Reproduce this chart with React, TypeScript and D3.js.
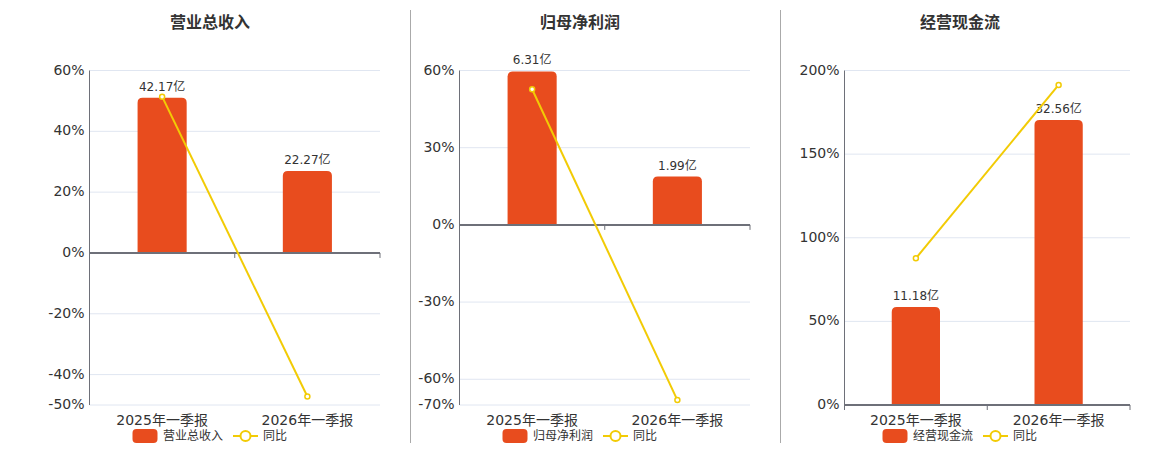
import { useEffect, useRef } from "react";
import * as d3 from "d3";

// ── Data ──────────────────────────────────────────────────────
const categories = ["2025年一季报", "2026年一季报"];
const panelTitles = ["营业总收入", "归母净利润", "经营现金流"];
const yoyLabel = "同比";

const revenue = [42.17, 22.27]; // 亿
const netProfit = [6.31, 1.99];
const cashFlow = [11.18, 32.56];

const revenueYoy = [51.4, -47.2]; // %
const netProfitYoy = [52.7, -68.1];
const cashFlowYoy = [87.7, 191.4];

const revenueTicks = [-50, -40, -20, 0, 20, 40, 60];
const netProfitTicks = [-70, -60, -30, 0, 30, 60];
const cashFlowTicks = [0, 50, 100, 150, 200];

// top of the hidden bar axis (亿) for each panel
const barAxisMax = [49.55, 6.35, 38.2];

const panels = [
  { title: panelTitles[0], bars: revenue, yoy: revenueYoy, ticks: revenueTicks, left: 89.5, right: 380, cx: 210 },
  { title: panelTitles[1], bars: netProfit, yoy: netProfitYoy, ticks: netProfitTicks, left: 459.5, right: 750, cx: 580 },
  { title: panelTitles[2], bars: cashFlow, yoy: cashFlowYoy, ticks: cashFlowTicks, left: 844.5, right: 1130, cx: 960 },
];

const BAR = "#e84c1e";
const LINE = "#f2cb05";
const TEXT = "#333";
const AXIS = "#6e7079";
const GRID = "#e0e6f1";
const FONT = "'DejaVu Sans', 'Noto Sans CJK SC', sans-serif";

export default function App() {
  const svgRef = useRef<SVGSVGElement>(null);

  useEffect(() => {
    if (!svgRef.current) return;
    const svg = d3.select(svgRef.current);
    svg.selectAll("*").remove();

    const top = 70.5;
    const bottom = 405;

    // dividers
    [410.5, 780.5].forEach((x) => {
      svg.append("line")
        .attr("x1", x).attr("x2", x)
        .attr("y1", 10).attr("y2", 443)
        .attr("stroke", "#aaa").attr("stroke-width", 1);
    });

    panels.forEach((p, pi) => {
      const g = svg.append("g");
      const yMin = d3.min(p.ticks)!;
      const yMax = d3.max(p.ticks)!;

      const y = d3.scaleLinear().domain([yMin, yMax]).range([bottom, top]);
      const bMax = barAxisMax[pi];
      const yBar = d3.scaleLinear().domain([(bMax * yMin) / yMax, bMax]).range([bottom, top]);
      const x = d3.scaleBand<string>().domain(categories).range([p.left, p.right]);
      const bw = x.bandwidth() * 0.338;

      // title
      g.append("text")
        .attr("x", p.cx).attr("y", 28)
        .attr("text-anchor", "middle")
        .attr("font-size", 16).attr("font-weight", "bold")
        .attr("fill", TEXT)
        .text(p.title);

      // grid + y labels
      p.ticks.forEach((t) => {
        if (t !== 0) {
          g.append("line")
            .attr("x1", p.left).attr("x2", p.right)
            .attr("y1", y(t)).attr("y2", y(t))
            .attr("stroke", GRID).attr("stroke-width", 1);
        }
        g.append("text")
          .attr("x", p.left - 5).attr("y", y(t))
          .attr("text-anchor", "end")
          .attr("dominant-baseline", "middle")
          .attr("font-size", 14)
          .attr("fill", TEXT)
          .text(`${t}%`);
      });

      // y axis line
      g.append("line")
        .attr("x1", p.left).attr("x2", p.left)
        .attr("y1", top).attr("y2", bottom)
        .attr("stroke", AXIS).attr("stroke-width", 1);

      // bars
      p.bars.forEach((v, i) => {
        const cx = x(categories[i])! + x.bandwidth() / 2;
        const y0 = yBar(0);
        const y1 = yBar(v);
        const r = 5;
        const x0 = cx - bw / 2;
        const x1 = cx + bw / 2;
        g.append("path")
          .attr("d", `M${x0},${y0}V${y1 + r}Q${x0},${y1} ${x0 + r},${y1}H${x1 - r}Q${x1},${y1} ${x1},${y1 + r}V${y0}Z`)
          .attr("fill", BAR);
        g.append("text")
          .attr("x", cx).attr("y", y1 - 7)
          .attr("text-anchor", "middle")
          .attr("font-size", 12)
          .attr("fill", TEXT)
          .text(`${v.toFixed(2)}亿`);
      });

      // zero axis with ticks
      const zy = y(0);
      g.append("line")
        .attr("x1", p.left).attr("x2", p.right)
        .attr("y1", zy).attr("y2", zy)
        .attr("stroke", AXIS).attr("stroke-width", 2);
      [...categories.map((c) => x(c)!), p.right].forEach((tx) => {
        g.append("line")
          .attr("x1", tx).attr("x2", tx)
          .attr("y1", zy).attr("y2", zy + 5)
          .attr("stroke", AXIS).attr("stroke-width", 1);
      });

      // x labels
      categories.forEach((c) => {
        g.append("text")
          .attr("x", x(c)! + x.bandwidth() / 2).attr("y", 425)
          .attr("text-anchor", "middle")
          .attr("font-size", 14)
          .attr("fill", TEXT)
          .text(c);
      });

      // yoy line
      const pts = p.yoy.map((v, i) => [x(categories[i])! + x.bandwidth() / 2, y(v)] as [number, number]);
      g.append("path")
        .attr("d", d3.line()(pts))
        .attr("fill", "none")
        .attr("stroke", LINE).attr("stroke-width", 2);
      pts.forEach(([px, py]) => {
        g.append("circle")
          .attr("cx", px).attr("cy", py).attr("r", 2.5)
          .attr("fill", "#fff")
          .attr("stroke", LINE).attr("stroke-width", 1.5);
      });

      // legend
      const ly = 436;
      g.append("rect")
        .attr("x", p.cx - 77.5).attr("y", ly - 7)
        .attr("width", 25).attr("height", 14).attr("rx", 4)
        .attr("fill", BAR);
      g.append("text")
        .attr("x", p.cx - 47).attr("y", ly)
        .attr("dominant-baseline", "central")
        .attr("font-size", 12).attr("fill", TEXT)
        .text(p.title);
      g.append("line")
        .attr("x1", p.cx + 23).attr("x2", p.cx + 48)
        .attr("y1", ly).attr("y2", ly)
        .attr("stroke", LINE).attr("stroke-width", 2);
      g.append("circle")
        .attr("cx", p.cx + 35.5).attr("cy", ly).attr("r", 5)
        .attr("fill", "#fff")
        .attr("stroke", LINE).attr("stroke-width", 2);
      g.append("text")
        .attr("x", p.cx + 53).attr("y", ly)
        .attr("dominant-baseline", "central")
        .attr("font-size", 12).attr("fill", TEXT)
        .text(yoyLabel);
    });
  }, []);

  return (
    <svg
      ref={svgRef}
      width={1160}
      height={450}
      style={{ position: "absolute", left: 0, top: 0, background: "#fff", fontFamily: FONT }}
    />
  );
}
